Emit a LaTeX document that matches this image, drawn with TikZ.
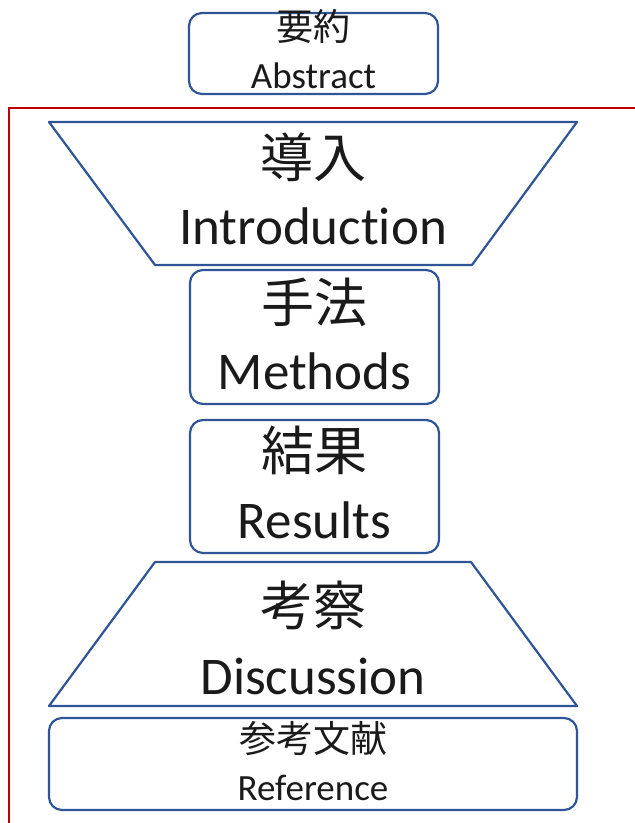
\documentclass[tikz,border=0pt]{standalone}
\usepackage{fontspec}
\setmainfont{Carlito}[Ligatures={NoCommon}]
\newfontfamily\cjk{Noto Sans CJK JP}
\definecolor{boxblue}{HTML}{2F5597}
\definecolor{framered}{HTML}{C00000}
\definecolor{txt}{HTML}{1A1A1A}
\begin{document}
\begin{tikzpicture}[x=1pt,y=-1pt,
  shapeline/.style={draw=boxblue,line width=2.2pt,line join=round},
  roundbox/.style={shapeline,rounded corners=13pt},
  small/.style={anchor=base,text=txt,inner sep=0pt,font=\fontsize{37}{44}\selectfont},
  big/.style={anchor=base,text=txt,inner sep=0pt,font=\fontsize{53}{64}\selectfont}]
\useasboundingbox (0,0) rectangle (635,823);
% red frame
\draw[framered,line width=2pt] (640,108) -- (9,108) -- (9,830);
% Abstract
\draw[roundbox] (189,13) rectangle (438,94);
\node[small] (absj) at (313.5,40) {\cjk 要約};
\node[small] (abse) at (313.5,88) {Abstract};
% Introduction
\draw[shapeline] (49,122) -- (577,122) -- (472,265) -- (155,265) -- cycle;
\node[big] (intj) at (313,177) {\cjk 導入};
\node[big] (inte) at (313,244) {Introduction};
% Methods
\draw[roundbox] (190,270) rectangle (439,404);
\node[big] (metj) at (314.5,322) {\cjk 手法};
\node[big] (mete) at (314.5,389) {Methods};
% Results
\draw[roundbox] (190,420) rectangle (439,553);
\node[big] (resj) at (314.5,470) {\cjk 結果};
\node[big] (rese) at (314.5,538) {Results};
% Discussion
\draw[shapeline] (155,562) -- (471,562) -- (577,706) -- (49,706) -- cycle;
\node[big] (disj) at (313,625) {\cjk 考察};
\node[big] (dise) at (313,694) {Discussion};
% Reference
\draw[roundbox] (49,718) rectangle (577,810);
\node[small] (refj) at (313,752) {\cjk 参考文献};
\node[small] (refe) at (313,800) {Reference};
\end{tikzpicture}
\end{document}
